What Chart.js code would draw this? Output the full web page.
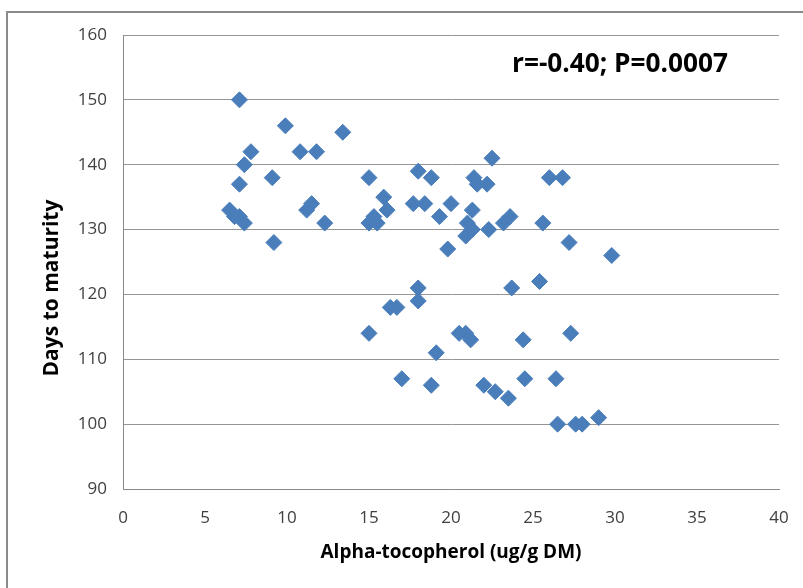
<!DOCTYPE html>
<html>
<head>
<meta charset="utf-8">
<script src="https://cdn.jsdelivr.net/npm/chart.js@4.4.0/dist/chart.umd.min.js"></script>
<style>
  html, body { margin: 0; padding: 0; background: #fff; }
  #wrap { width: 803px; height: 588px; }
</style>
</head>
<body>
<div id="wrap"><canvas id="chart" width="803" height="588"></canvas></div>
<script>
// alpha-tocopherol (ug/g DM) vs days to maturity
const tocopherol = [
  7.1, 9.9, 13.4, 7.8, 10.8, 11.8, 7.4, 7.1, 9.1, 6.5,
  6.8, 7.1, 7.4, 9.2, 11.2, 11.5, 12.3, 15.0, 15.0, 15.3,
  15.5, 15.9, 16.1, 18.0, 18.8, 17.7, 18.4, 19.3, 20.0, 19.8,
  21.4, 21.6, 22.2, 22.5, 21.3, 21.0, 21.3, 20.9, 22.3, 23.2,
  23.6, 25.6, 26.0, 26.8, 27.2, 29.8, 25.4, 23.7, 18.0, 18.0,
  16.3, 16.7, 15.0, 20.5, 20.9, 21.2, 24.4, 27.3, 19.1, 17.0,
  18.8, 22.0, 22.7, 23.5, 24.5, 26.4, 26.5, 27.6, 28.0, 29.0
];
const daysToMaturity = [
  150, 146, 145, 142, 142, 142, 140, 137, 138, 133,
  132, 132, 131, 128, 133, 134, 131, 138, 131, 132,
  131, 135, 133, 139, 138, 134, 134, 132, 134, 127,
  138, 137, 137, 141, 133, 131, 130, 129, 130, 131,
  132, 131, 138, 138, 128, 126, 122, 121, 121, 119,
  118, 118, 114, 114, 114, 113, 113, 114, 111, 107,
  106, 106, 105, 104, 107, 107, 100, 100, 100, 101
];
const xRange = [0, 40];
const yRange = [90, 160];
const xTitle = 'Alpha-tocopherol (ug/g DM)';
const yTitle = 'Days to maturity';
const statsLabel = 'r=-0.40; P=0.0007';

const points = tocopherol.map((x, i) => ({ x: x, y: daysToMaturity[i] }));

const fontFamily = "'Open Sans', 'Liberation Sans', sans-serif";

// white background + the gray frame that sits round the excel chart
const framePlugin = {
  id: 'frame',
  beforeDraw(chart) {
    const ctx = chart.ctx;
    ctx.save();
    ctx.fillStyle = '#fff';
    ctx.fillRect(0, 0, chart.width, chart.height);
    ctx.fillStyle = '#8a8a8a';
    ctx.fillRect(6, 11, 2, chart.height - 11);
    ctx.fillRect(6, 11, chart.width - 6, 2);
    ctx.restore();
  }
};

// r / P note in the upper right, and the y title (sits a bit low in the original)
const textPlugin = {
  id: 'texts',
  afterDraw(chart) {
    const ctx = chart.ctx;
    ctx.save();
    let size = 22;
    ctx.font = 'bold ' + size + 'px ' + fontFamily;
    const w = ctx.measureText(statsLabel).width;
    size = size * 216 / w; // fit the width used in the picture
    ctx.font = 'bold ' + size + 'px ' + fontFamily;
    ctx.fillStyle = '#000';
    ctx.textBaseline = 'middle';
    ctx.textAlign = 'left';
    ctx.fillText(statsLabel, 512, 65);

    ctx.translate(52, 288);
    ctx.rotate(-Math.PI / 2);
    ctx.textAlign = 'center';
    ctx.font = 'bold 21px ' + fontFamily;
    ctx.fillText(yTitle, 0, 0);
    ctx.restore();
  }
};

new Chart(document.getElementById('chart').getContext('2d'), {
  type: 'scatter',
  data: {
    datasets: [{
      data: points,
      pointStyle: 'rectRot',
      pointRadius: 8,
      pointBorderWidth: 1,
      backgroundColor: '#4a7ebb',
      borderColor: '#4a7ebb'
    }]
  },
  options: {
    responsive: false,
    animation: false,
    layout: { padding: { top: 35, right: 24, left: 0, bottom: 0 } },
    plugins: {
      legend: { display: false },
      tooltip: { enabled: false }
    },
    scales: {
      x: {
        type: 'linear',
        min: xRange[0],
        max: xRange[1],
        afterFit: scale => {
          scale.height = 99;
          scale.paddingLeft = 0;
          scale.paddingRight = 0;
        },
        ticks: {
          stepSize: 5,
          padding: 19,
          color: '#404040',
          font: { family: fontFamily, size: 17 }
        },
        grid: { display: false, drawTicks: false },
        border: { display: true, color: '#8a8a8a', width: 1 },
        title: {
          display: true,
          text: xTitle,
          color: '#000',
          font: { family: fontFamily, size: 19, weight: 'bold' },
          padding: { top: 0, bottom: 24 }
        }
      },
      y: {
        min: yRange[0],
        max: yRange[1],
        afterFit: scale => {
          scale.width = 123;
          scale.paddingTop = 0;
          scale.paddingBottom = 0;
        },
        ticks: {
          stepSize: 10,
          padding: 16,
          color: '#404040',
          font: { family: fontFamily, size: 17 }
        },
        grid: { color: '#959595', lineWidth: 1, drawTicks: false },
        border: { display: true, color: '#8a8a8a', width: 1 }
      }
    }
  },
  plugins: [framePlugin, textPlugin]
});
</script>
</body>
</html>
